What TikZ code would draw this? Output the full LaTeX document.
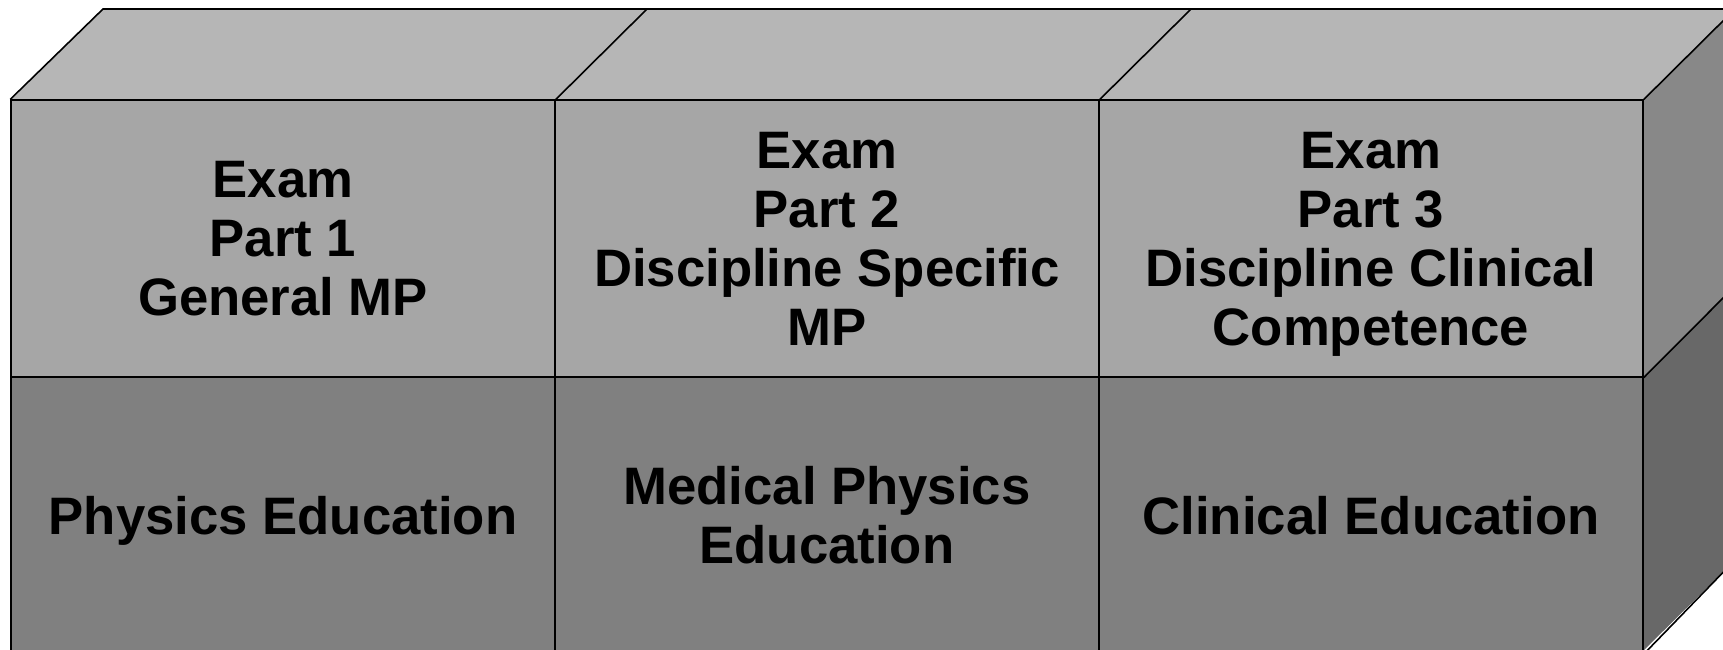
\documentclass[tikz,border=0pt]{standalone}
\usepackage{fontspec}
\setmainfont{Liberation Sans}
\definecolor{topface}{HTML}{B6B6B6}
\definecolor{fronttop}{HTML}{A6A6A6}
\definecolor{frontbot}{HTML}{808080}
\definecolor{sidetop}{HTML}{888888}
\definecolor{sidebot}{HTML}{686868}
\begin{document}
\begin{tikzpicture}[x=1pt,y=-1pt,
  edge/.style={draw=black,line width=1.6pt,line join=miter},
  cell/.style={edge,rectangle,minimum width=544pt,minimum height=276.5pt,inner sep=0pt,
    align=center,text depth=0pt,font=\fontsize{52.7pt}{59pt}\selectfont\bfseries,text=black}]
\useasboundingbox (0,0) rectangle (1723,650);
\clip (0,0) rectangle (1723,650);
% top face
\coordinate (tl) at (11,100);
\coordinate (tr) at (1643,100);
\coordinate (bl) at (103,9);
\coordinate (br) at (1735,9);
\fill[topface] (tl) -- (bl) -- (br) -- (tr) -- cycle;
% right faces
\coordinate (rm) at (1643,377);
\coordinate (rb) at (1643,651);
\coordinate (rmb) at (1735,286);
\coordinate (rbb) at (1735,560);
\fill[sidetop] (tr) -- (br) -- (rmb) -- (rm) -- cycle;
\fill[sidebot] (rm) -- (rmb) -- (rbb) -- (rb) -- cycle;
% cells
\node[cell,fill=fronttop] (a1) at (283,238.5) {Exam\\Part 1\\General MP};
\node[cell,fill=fronttop] (a2) at (827,238.5) {Exam\\Part 2\\Discipline Specific\\MP};
\node[cell,fill=fronttop] (a3) at (1371,238.5) {Exam\\Part 3\\Discipline Clinical\\Competence};
\node[cell,fill=frontbot] (b1) at (283,515) {Physics Education};
\node[cell,fill=frontbot] (b2) at (827,515) {Medical Physics\\Education};
\node[cell,fill=frontbot] (b3) at (1371,515) {Clinical Education};
% top face edges
\coordinate (d1) at (647,9);
\coordinate (d2) at (1191,9);
\draw[edge] (a1.north west) -- (bl) -- (br);
\draw[edge] (a1.north east) -- (d1);
\draw[edge] (a2.north east) -- (d2);
\draw[edge] (a3.north east) -- (br);
\draw[edge] (a3.south east) -- (rmb);
\draw[edge] (b3.south east) -- (rbb);
\end{tikzpicture}
\end{document}
